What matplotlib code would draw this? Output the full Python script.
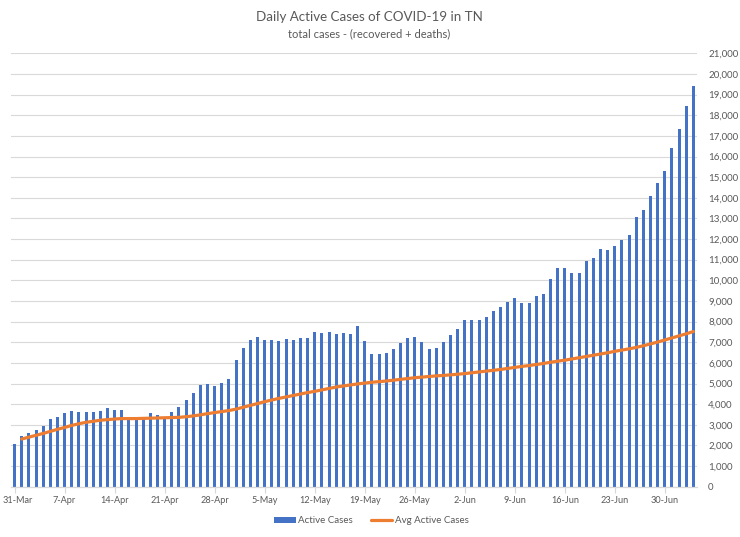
import matplotlib
matplotlib.use("Agg")
import matplotlib.pyplot as plt
import matplotlib.ticker as mticker
import matplotlib.transforms as mtrans
import pandas as pd

# ---- data ----
start_date = "2020-03-31"
active_cases = [
    2060, 2480, 2580, 2760, 2950, 3270, 3370, 3560, 3660, 3600,
    3600, 3600, 3680, 3790, 3710, 3740, 3260, 3390, 3310, 3560,
    3470, 3270, 3630, 3870, 4180, 4520, 4940, 4970, 4900, 5020,
    5210, 6130, 6700, 7120, 7250, 7090, 7120, 7060, 7150, 7120,
    7200, 7220, 7480, 7440, 7510, 7380, 7460, 7410, 7810, 7070,
    6430, 6430, 6500, 6690, 6960, 7190, 7250, 7010, 6660, 6720,
    7000, 7330, 7650, 8070, 8090, 8060, 8200, 8520, 8730, 8950,
    9120, 8920, 8920, 9220, 9350, 10070, 10600, 10620, 10360, 10360,
    10950, 11090, 11520, 11450, 11680, 11970, 12180, 13090, 13420, 14070,
    14740, 15300, 16410, 17330, 18460, 19420,
]
# average line starts on the second day (1-Apr)
avg_active_cases = [
    2310, 2400, 2490, 2580, 2680, 2780, 2870, 2970, 3050, 3120,
    3170, 3220, 3250, 3280, 3300, 3300, 3300, 3310, 3320, 3330,
    3340, 3350, 3360, 3390, 3430, 3480, 3540, 3590, 3640, 3690,
    3760, 3850, 3940, 4030, 4120, 4200, 4280, 4350, 4420, 4490,
    4560, 4620, 4690, 4760, 4830, 4880, 4930, 4980, 5020, 5060,
    5090, 5120, 5160, 5200, 5240, 5280, 5310, 5340, 5370, 5390,
    5420, 5450, 5480, 5520, 5560, 5600, 5640, 5680, 5730, 5780,
    5830, 5870, 5920, 5970, 6030, 6080, 6130, 6190, 6250, 6310,
    6370, 6430, 6490, 6560, 6620, 6680, 6750, 6830, 6920, 7010,
    7110, 7210, 7310, 7410, 7520,
]
tick_labels = ["31-Mar", "7-Apr", "14-Apr", "21-Apr", "28-Apr", "5-May",
               "12-May", "19-May", "26-May", "2-Jun", "9-Jun", "16-Jun",
               "23-Jun", "30-Jun"]
y_ticks = list(range(0, 21001, 1000))

title = "Daily Active Cases of COVID-19 in TN"
subtitle = "total cases - (recovered + deaths)"
bar_label = "Active Cases"
line_label = "Avg Active Cases"

# ---- styling ----
BLUE = "#4472C4"
ORANGE = "#ED7D31"
TEXT = "#595959"
GRID = "#D9D9D9"
plt.rcParams["font.family"] = ["Lato", "DejaVu Sans"]

dates = pd.date_range(start_date, periods=len(active_cases), freq="D")
avg_dates = dates[1:1 + len(avg_active_cases)]
tick_pos = [pd.to_datetime(t + "-2020", format="%d-%b-%Y") for t in tick_labels]

fig = plt.figure(figsize=(7.40, 5.37), dpi=100)
ax = fig.add_axes([0.0149, 0.0937, 0.927, 0.807])

bars = ax.bar(dates, active_cases, width=0.42, color=BLUE, label=bar_label, zorder=2)
line, = ax.plot(avg_dates, avg_active_cases, color=ORANGE, lw=2.3, label=line_label,
                zorder=3, solid_capstyle="round")

ax.set_xlim(dates[0] - pd.Timedelta(hours=12), dates[-1] + pd.Timedelta(hours=12))
ax.set_ylim(0, 21000)

ax.yaxis.tick_right()
ax.set_yticks(y_ticks)
ax.yaxis.set_major_formatter(mticker.FuncFormatter(lambda v, p: f"{int(v):,}"))
ax.tick_params(axis="y", length=0, pad=8, labelsize=7, labelcolor=TEXT)

ax.set_xticks(tick_pos)
ax.set_xticklabels(tick_labels)
ax.tick_params(axis="x", length=4, width=0.8, color=GRID, pad=3,
               labelsize=6.6, labelcolor=TEXT)
first = ax.get_xticklabels()[0]
first.set_horizontalalignment("left")
first.set_transform(first.get_transform() +
                    mtrans.ScaledTranslation(-12 / 100, 0, fig.dpi_scale_trans))

ax.grid(axis="y", color=GRID, lw=0.8, zorder=0)
ax.set_axisbelow(True)
for s in ["top", "left", "right"]:
    ax.spines[s].set_visible(False)
ax.spines["bottom"].set_color(GRID)
ax.spines["bottom"].set_linewidth(0.9)

fig.text(0.499, 0.969, title, ha="center", va="center", fontsize=9.6, color=TEXT)
fig.text(0.499, 0.937, subtitle, ha="center", va="center", fontsize=8, color=TEXT)

leg = fig.legend([bars, line], [bar_label, line_label], loc="center",
                 bbox_to_anchor=(0.502, 0.030), ncol=2, frameon=False,
                 fontsize=7, handlelength=2.2, handleheight=0.55, columnspacing=1.8,
                 handletextpad=0.3)
for t in leg.get_texts():
    t.set_color(TEXT)

fig.savefig("out.png", dpi=100, facecolor="white")
